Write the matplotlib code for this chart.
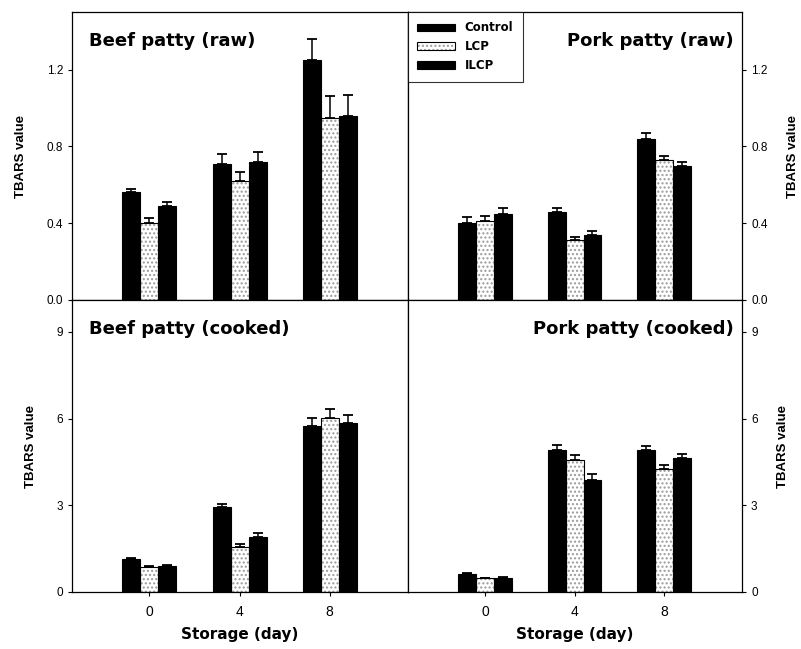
import numpy as np
import matplotlib
matplotlib.use("Agg")
import matplotlib.pyplot as plt

plt.rcParams['font.family'] = ['Liberation Sans', 'DejaVu Sans']

# dati
days = ["0", "4", "8"]
groups = ["Control", "LCP", "ILCP"]

beef_raw = [[0.56, 0.71, 1.25], [0.40, 0.62, 0.95], [0.49, 0.72, 0.96]]
beef_raw_err = [[0.02, 0.05, 0.11], [0.025, 0.045, 0.11], [0.02, 0.05, 0.11]]
pork_raw = [[0.40, 0.46, 0.84], [0.41, 0.31, 0.73], [0.45, 0.34, 0.70]]
pork_raw_err = [[0.03, 0.02, 0.03], [0.03, 0.02, 0.02], [0.03, 0.02, 0.02]]
beef_cooked = [[1.15, 2.94, 5.74], [0.87, 1.56, 6.02], [0.90, 1.90, 5.85]]
beef_cooked_err = [[0.04, 0.12, 0.28], [0.04, 0.10, 0.30], [0.03, 0.14, 0.28]]
pork_cooked = [[0.62, 4.91, 4.91], [0.48, 4.57, 4.26], [0.50, 3.88, 4.64]]
pork_cooked_err = [[0.02, 0.18, 0.15], [0.02, 0.17, 0.14], [0.02, 0.20, 0.14]]

titles = ["Beef patty (raw)", "Pork patty (raw)", "Beef patty (cooked)", "Pork patty (cooked)"]

fig = plt.figure(figsize=(8.01, 6.49), dpi=100)
W, H = 801, 649
boxes = [(72, 12, 336, 288), (408, 12, 334, 288), (72, 300, 336, 292), (408, 300, 334, 292)]
axes = [fig.add_axes([x / W, 1 - (y + h) / H, w / W, h / H]) for x, y, w, h in boxes]

w = 0.2
x = np.arange(len(days))
bold_wide = {"family": "DejaVu Sans", "weight": "bold"}
handles = {}


def Pannello(ax, valori, errori, titolo, destra, sotto, ymax, ticks, ticklab):
    for i, g in enumerate(groups):
        pos = x + (i - 1) * w
        if g == "LCP":
            # puntinato grigio chiaro
            b1 = ax.bar(pos, valori[i], w, color="white", hatch="....", edgecolor="#9a9a9a",
                        linewidth=0, zorder=2)
            b2 = ax.bar(pos, valori[i], w, fill=False, edgecolor="black", linewidth=0.8,
                        zorder=3)
            handles[g] = (b1, b2)
        else:
            b = ax.bar(pos, valori[i], w, color="black", edgecolor="black", linewidth=0.8,
                       zorder=3)
            handles[g] = b
        ax.errorbar(pos, valori[i], yerr=[np.zeros(3), errori[i]], fmt="none",
                    ecolor="black", elinewidth=1.1, capsize=3.5, capthick=1.3, zorder=4)
    ax.set_xlim(-0.86, 2.87)
    ax.set_ylim(0, ymax)
    ax.set_yticks(ticks)
    ax.set_yticklabels(ticklab, fontsize=8.5)
    ax.tick_params(axis="y", direction="out", length=3, width=0.8)
    if destra:
        ax.yaxis.tick_right()
        ax.yaxis.set_label_position("right")
        ax.set_ylabel("TBARS value", fontsize=9.5, fontweight="bold", labelpad=14)
        ax.text(0.975, 0.9, titolo, transform=ax.transAxes, ha="right", va="center",
                fontsize=13, fontdict=bold_wide)
    else:
        ax.set_ylabel("TBARS value", fontsize=9.5, fontweight="bold", labelpad=14)
        ax.text(0.05, 0.9, titolo, transform=ax.transAxes, ha="left", va="center",
                fontsize=13, fontdict=bold_wide)
    if sotto:
        ax.set_xticks(x)
        ax.set_xticklabels(days, fontsize=10)
        ax.tick_params(axis="x", direction="out", length=3, width=0.8, pad=6)
        ax.set_xlabel("Storage (day)", fontsize=11, fontdict=bold_wide, labelpad=6)
    else:
        ax.set_xticks([])
    for s in ax.spines.values():
        s.set_linewidth(0.9)


t_raw = [0.0, 0.4, 0.8, 1.2]
l_raw = ["0.0", "0.4", "0.8", "1.2"]
t_ck = [0, 3, 6, 9]
l_ck = ["0", "3", "6", "9"]

Pannello(axes[0], beef_raw, beef_raw_err, titles[0], False, False, 1.5, t_raw, l_raw)
Pannello(axes[1], pork_raw, pork_raw_err, titles[1], True, False, 1.5, t_raw, l_raw)
Pannello(axes[2], beef_cooked, beef_cooked_err, titles[2], False, True, 10.1, t_ck, l_ck)
Pannello(axes[3], pork_cooked, pork_cooked_err, titles[3], True, True, 10.1, t_ck, l_ck)

# legenda nel pannello in alto a destra
leg = axes[1].legend([handles[g] for g in groups], groups, loc="upper left",
                     borderaxespad=0, fancybox=False, edgecolor="black",
                     handlelength=3.2, handleheight=0.6,
                     prop={"family": "DejaVu Sans", "weight": "bold", "size": 8.5},
                     borderpad=0.8, labelspacing=0.5)
leg.get_frame().set_linewidth(0.8)

plt.savefig("out.png", dpi=100)
